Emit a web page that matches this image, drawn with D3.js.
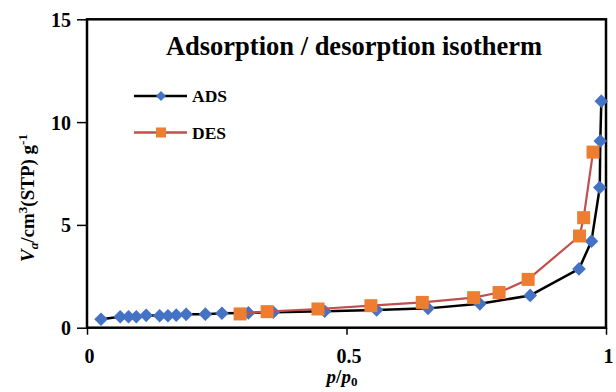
<!DOCTYPE html>
<html>
<head>
<meta charset="utf-8">
<script src="https://cdn.jsdelivr.net/npm/d3@7"></script>
<style>
  html, body { margin: 0; padding: 0; background: #fff; }
  svg { display: block; }
  text { font-family: "Liberation Serif", "Times New Roman", serif; font-weight: bold; fill: #000; }
</style>
</head>
<body>
<svg id="chart" width="616" height="392"></svg>
<script>
// Adsorption branch (relative pressure, adsorbed volume)
const adsP = [0.027, 0.064, 0.080, 0.095, 0.114, 0.140, 0.156, 0.172, 0.191, 0.228, 0.260,
              0.311, 0.359, 0.458, 0.558, 0.657, 0.757, 0.854, 0.948, 0.972, 0.988, 0.989, 0.991];
const adsV = [0.41, 0.53, 0.53, 0.53, 0.60, 0.58, 0.58, 0.61, 0.65, 0.66, 0.70,
              0.72, 0.75, 0.80, 0.86, 0.94, 1.16, 1.57, 2.86, 4.21, 6.82, 9.08, 11.02];
// Desorption branch
const desP = [0.295, 0.347, 0.445, 0.547, 0.646, 0.745, 0.794, 0.850, 0.949, 0.957, 0.975];
const desV = [0.67, 0.78, 0.91, 1.07, 1.23, 1.46, 1.71, 2.35, 4.46, 5.35, 8.54];

const xTicks = [0, 0.5, 1];
const yTicks = [0, 5, 10, 15];
const titleText = "Adsorption / desorption isotherm";

const svg = d3.select("#chart");
const plot = { left: 87, right: 606, top: 19.3, bottom: 327.7 };

const x = d3.scaleLinear().domain([0, 1]).range([plot.left, plot.right]);
const y = d3.scaleLinear().domain([0, 15]).range([plot.bottom, plot.top]);

// Axes with outward ticks and bold serif labels
const xAxis = svg.append("g")
  .attr("transform", `translate(0,${plot.bottom})`)
  .call(d3.axisBottom(x).tickValues(xTicks).tickSize(7).tickPadding(14)
        .tickFormat(d => d === 0 ? "0" : d === 1 ? "1" : d3.format(".1f")(d)));
const yAxis = svg.append("g")
  .attr("transform", `translate(${plot.left},0)`)
  .call(d3.axisLeft(y).tickValues(yTicks).tickSize(10).tickPadding(6));

[xAxis, yAxis].forEach(g => {
  g.select(".domain").remove();
  g.selectAll(".tick line").attr("stroke", "#000").attr("stroke-width", 1.5);
  g.selectAll(".tick text").style("font-size", "20px")
    .style("font-family", "'Liberation Serif', serif").style("font-weight", "bold").attr("fill", "#000");
});
xAxis.selectAll(".tick text").attr("dx", 2);
yAxis.selectAll(".tick text").attr("dy", "0.35em");

// Plot frame
svg.append("rect")
  .attr("x", plot.left).attr("y", plot.top)
  .attr("width", plot.right - plot.left).attr("height", plot.bottom - plot.top)
  .attr("fill", "none").attr("stroke", "#000").attr("stroke-width", 2.5);

const line = d3.line().x(d => x(d[0])).y(d => y(d[1]));
const adsData = adsP.map((p, i) => [p, adsV[i]]);
const desData = desP.map((p, i) => [p, desV[i]]);

const diamond = s => `M0,${-s}L${s},0L0,${s}L${-s},0Z`;

// Adsorption series
svg.append("path").datum(adsData).attr("d", line)
  .attr("fill", "none").attr("stroke", "#000").attr("stroke-width", 2.5).attr("stroke-linejoin", "round");
svg.append("g").selectAll("path").data(adsData).join("path")
  .attr("transform", d => `translate(${x(d[0])},${y(d[1])})`)
  .attr("d", diamond(6.8)).attr("fill", "#4472C4");

// Desorption series
svg.append("path").datum(desData).attr("d", line)
  .attr("fill", "none").attr("stroke", "#C0504D").attr("stroke-width", 2.2).attr("stroke-linejoin", "round");
svg.append("g").selectAll("rect").data(desData).join("rect")
  .attr("x", d => x(d[0]) - 6.5).attr("y", d => y(d[1]) - 6.5)
  .attr("width", 13).attr("height", 13).attr("fill", "#ED7D31");

// Title
svg.append("text").attr("x", 354).attr("y", 54.5).attr("text-anchor", "middle")
  .style("font-size", "26.5px").text(titleText);

// Legend
const legend = [
  { name: "ADS", y: 96, stroke: "#000", fill: "#4472C4", shape: "diamond" },
  { name: "DES", y: 132.5, stroke: "#C0504D", fill: "#ED7D31", shape: "square" }
];
legend.forEach(item => {
  const g = svg.append("g");
  g.append("line").attr("x1", 134).attr("x2", 187).attr("y1", item.y).attr("y2", item.y)
    .attr("stroke", item.stroke).attr("stroke-width", 2.5);
  if (item.shape === "diamond") {
    g.append("path").attr("transform", `translate(161,${item.y})`).attr("d", diamond(5)).attr("fill", item.fill);
  } else {
    g.append("rect").attr("x", 156).attr("y", item.y - 5).attr("width", 10).attr("height", 10).attr("fill", item.fill);
  }
  g.append("text").attr("x", 192).attr("y", item.y + 6).style("font-size", "17.5px").text(item.name);
});

// Axis titles
const xt = svg.append("text").attr("x", 342).attr("y", 383).attr("text-anchor", "middle").style("font-size", "19px");
xt.append("tspan").style("font-style", "italic").text("p");
xt.append("tspan").text("/");
xt.append("tspan").style("font-style", "italic").text("p");
xt.append("tspan").attr("dy", 3).style("font-size", "13px").text("0");

const yt = svg.append("text")
  .attr("transform", "translate(34,198) rotate(-90)")
  .attr("text-anchor", "middle").style("font-size", "19px");
yt.append("tspan").style("font-style", "italic").text("V");
yt.append("tspan").attr("dy", 4).style("font-size", "13px").style("font-style", "italic").text("a");
yt.append("tspan").attr("dy", -4).text("/cm");
yt.append("tspan").attr("dy", -7).style("font-size", "13px").text("3");
yt.append("tspan").attr("dy", 7).text("(STP) g");
yt.append("tspan").attr("dy", -7).style("font-size", "13px").text("-1");
</script>
</body>
</html>
